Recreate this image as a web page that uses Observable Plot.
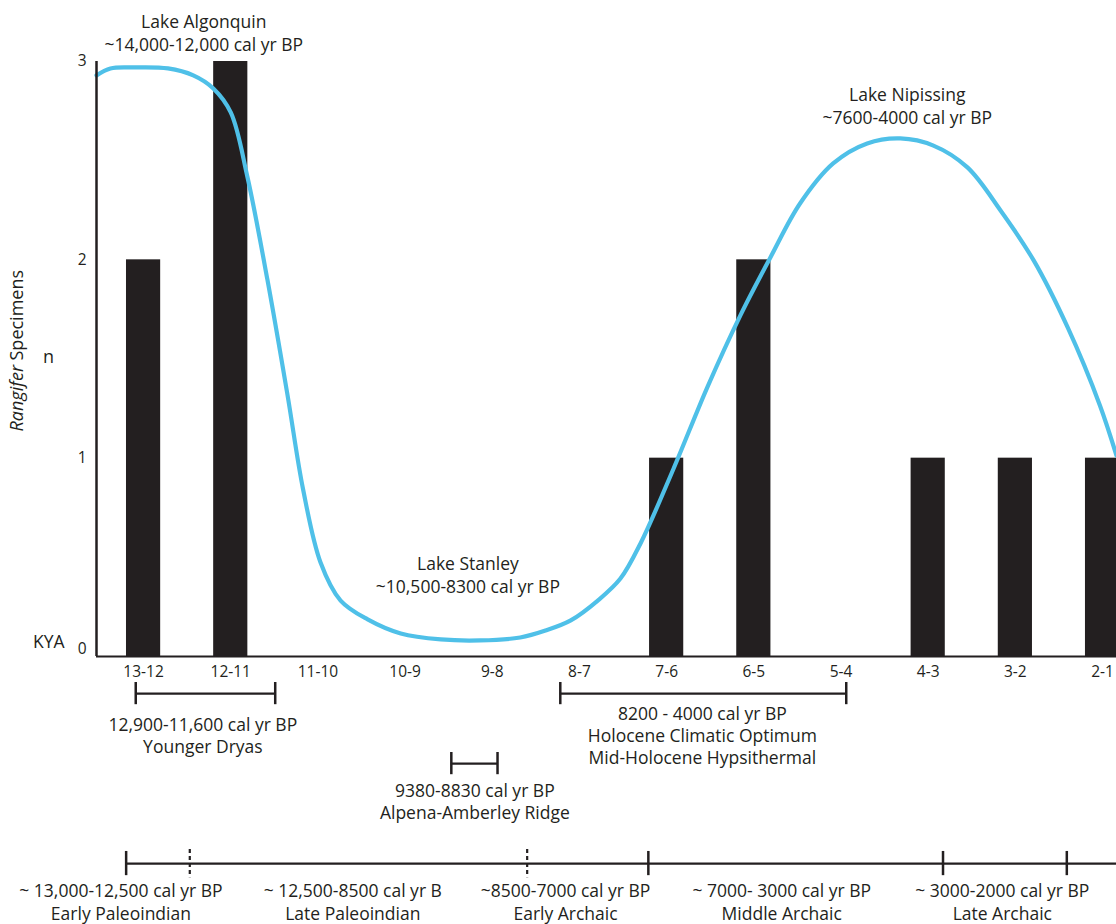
<!DOCTYPE html>
<html>
<head>
<meta charset="utf-8">
<script src="https://cdn.jsdelivr.net/npm/d3@7"></script>
<script src="https://cdn.jsdelivr.net/npm/@observablehq/plot@0.6"></script>
<style>
  html, body { margin: 0; padding: 0; background: #fff; overflow: hidden; }
  #chart svg { display: block; }
</style>
</head>
<body>
<div id="chart"></div>
<script>
// ---- data (kya = thousands of years ago) ----
const bins = ["13-12","12-11","11-10","10-9","9-8","8-7","7-6","6-5","5-4","4-3","3-2","2-1"];
const counts = [2, 3, 0, 0, 0, 0, 1, 2, 0, 1, 1, 1];

// lake-level curve (kya, relative height on n scale)
const curveKya = [13.04, 12.88, 12.61, 12.22, 11.93, 11.70, 11.50, 11.31, 11.08, 10.85, 10.67, 10.47, 10.24, 9.93, 9.55, 9.09, 8.64, 8.18, 7.89, 7.60, 7.29, 7.03, 6.80, 6.42, 6.03, 5.65, 5.31, 4.97, 4.59, 4.20, 3.82, 3.44, 3.05, 2.67, 2.29, 1.90, 1.53, 1.34];
const curveN   = [2.93, 2.965, 2.97, 2.965, 2.93, 2.864, 2.743, 2.42, 1.901, 1.321, 0.842, 0.474, 0.282, 0.187, 0.116, 0.086, 0.081, 0.096, 0.131, 0.182, 0.282, 0.393, 0.57, 0.948, 1.361, 1.724, 2.012, 2.284, 2.486, 2.587, 2.612, 2.576, 2.466, 2.249, 1.997, 1.659, 1.266, 1.013];

const xDomain = [13.04, 1.34];
const yTicks = [0, 1, 2, 3];

// lake annotations (placed where the figure places them)
const lakeNames  = ["Lake Algonquin", "Lake Stanley", "Lake Nipissing"];
const lakeRanges = ["~14,000-12,000 cal yr BP", "~10,500-8300 cal yr BP", "~7600-4000 cal yr BP"];
const lakeAt     = [11.81, 8.78, 3.74];
const lakeLevel  = [3.149, 0.413, 2.778];

// climatic brackets below the axis
const spanLabels = ["12,900-11,600 cal yr BP\nYounger Dryas", "8200 - 4000 cal yr BP\nHolocene Climatic Optimum\nMid-Holocene Hypsithermal", "9380-8830 cal yr BP\nAlpena-Amberley Ridge"];
const spanFrom   = [12.59, 7.72, 8.97];
const spanTo     = [10.99, 4.44, 8.44];
const spanLevel  = [-0.187, -0.187, -0.540];
const spanTextAt = [11.82, 6.09, 8.70];
const spanTextLevel = [-0.395, -0.395, -0.726];

// cultural periods timeline
const periodNames  = ["Early Paleoindian", "Late Paleoindian", "Early Archaic", "Middle Archaic", "Late Archaic"];
const periodRanges = ["~ 13,000-12,500 cal yr BP", "~ 12,500-8500 cal yr B", "~8500-7000 cal yr BP", "~ 7000- 3000 cal yr BP", "~ 3000-2000 cal yr BP"];
const periodTextAt = [12.76, 10.10, 7.66, 5.18, 2.65];
const timelineLevel = -1.044;
const timelineStart = 12.70;
const timelineEnd = 1.2;
const solidTicks  = [12.70, 6.71, 3.33, 1.91];
const dashedTicks = [11.97, 8.10];
const periodTextLevel = -1.235;

// ---- build tables ----
const bars = bins.map((b, i) => {
  const [a, z] = b.split("-").map(Number);
  return {bin: b, start: a, end: z, n: counts[i]};
});
const centers = bars.map(d => (d.start + d.end) / 2);
const labelByCenter = new Map(bars.map(d => [(d.start + d.end) / 2, d.bin]));
const curve = curveKya.map((k, i) => ({kya: k, n: curveN[i]}));
const lakes = lakeNames.map((name, i) => ({text: name + "\n" + lakeRanges[i], x: lakeAt[i], y: lakeLevel[i]}));
const spans = spanLabels.map((t, i) => ({text: t, from: spanFrom[i], to: spanTo[i], y: spanLevel[i], tx: spanTextAt[i], ty: spanTextLevel[i]}));
const spanEnds = spans.flatMap(s => [{x: s.from, y: s.y}, {x: s.to, y: s.y}]);
const periods = periodNames.map((p, i) => ({text: periodRanges[i] + "\n" + p, x: periodTextAt[i], y: periodTextLevel}));

const ink = "#231f20";
const font = "'Open Sans', 'Noto Sans', sans-serif";

const chart = Plot.plot({
  width: 1116,
  height: 924,
  marginLeft: 96,
  marginRight: 0,
  marginTop: 61,
  marginBottom: 268,
  style: {fontFamily: font, fontSize: "15.5px", color: ink, background: "#fff"},
  x: {domain: xDomain},
  y: {domain: [0, 3]},
  marks: [
    Plot.rect(bars, {x1: "start", x2: "end", y1: 0, y2: "n", insetLeft: 26.5, insetRight: 26.5, fill: ink}),
    Plot.line(curve, {x: "kya", y: "n", curve: "catmull-rom", stroke: "#4fc0e8", strokeWidth: 4.2}),
    Plot.ruleY([0], {stroke: ink, strokeWidth: 2.2}),
    Plot.ruleX([xDomain[0]], {y1: 0, y2: 3, stroke: ink, strokeWidth: 2.5}),
    Plot.axisY(yTicks.filter(d => d > 0), {tickSize: 0, tickPadding: 10, label: null, fontSize: 15.5, tickFormat: d => String(d)}),
    Plot.axisY([0], {tickSize: 0, tickPadding: 10, label: null, fontSize: 15.5, dy: -7, tickFormat: d => String(d)}),
    Plot.axisX({ticks: centers, tickSize: 0, tickPadding: 9, label: null, fontSize: 15.5, tickFormat: d => labelByCenter.get(d)}),
    // axis decorations
    Plot.text(["KYA"], {frameAnchor: "bottom-left", textAnchor: "end", dx: -32, dy: -9, fontSize: 17.5, fill: ink}),
    Plot.text(["n"], {frameAnchor: "left", textAnchor: "middle", dx: -48, dy: -2, fontSize: 18, fill: ink}),
    Plot.text(["Rangifer"], {frameAnchor: "left", dx: -79, dy: 6, rotate: -90, textAnchor: "end", fontStyle: "italic", fontSize: 18, fill: ink}),
    Plot.text(["Specimens"], {frameAnchor: "left", dx: -79, dy: 1.5, rotate: -90, textAnchor: "start", fontSize: 18, fill: ink}),
    // lake labels
    Plot.text(lakes, {x: "x", y: "y", text: "text", lineHeight: 1.3, fontSize: 17.5, fill: ink}),
    // brackets
    Plot.ruleY(spans, {y: "y", x1: "from", x2: "to", stroke: ink, strokeWidth: 2.2}),
    Plot.ruleX(spanEnds, {x: "x", y1: d => d.y + 0.056, y2: d => d.y - 0.056, stroke: ink, strokeWidth: 2.5}),
    Plot.text(spans, {x: "tx", y: "ty", text: "text", lineHeight: 1.26, fontSize: 17.5, fill: ink}),
    // timeline
    Plot.ruleY([timelineLevel], {x1: timelineStart, x2: timelineEnd, stroke: ink, strokeWidth: 2.2}),
    Plot.ruleX(solidTicks, {y1: timelineLevel + 0.061, y2: timelineLevel - 0.061, stroke: ink, strokeWidth: 2.5}),
    Plot.ruleX(dashedTicks, {y1: timelineLevel + 0.071, y2: timelineLevel - 0.071, stroke: ink, strokeWidth: 2.2, strokeDasharray: "4,3"}),
    Plot.text(periods, {x: "x", y: "y", text: "text", lineHeight: 1.26, fontSize: 17.5, fill: ink})
  ]
});
document.getElementById("chart").append(chart);
</script>
</body>
</html>
